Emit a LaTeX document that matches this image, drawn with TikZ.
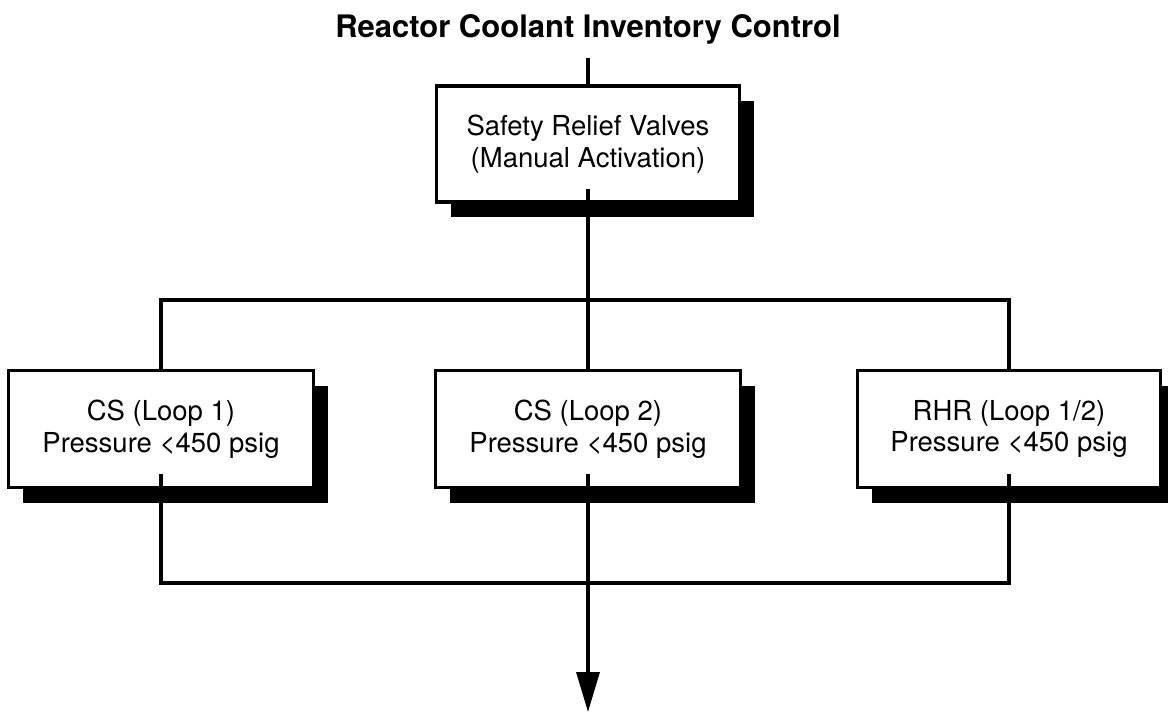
\documentclass[tikz,border=0pt]{standalone}
\usepackage{fontspec}
\setmainfont{TeX Gyre Heros}
\usetikzlibrary{shadows,arrows.meta}
\tikzset{
  blk/.style={draw=black, line width=3.5pt, fill=white,
    minimum width=303pt, minimum height=116pt, inner sep=0pt,
    align=center, font=\fontsize{27.5}{31.5}\selectfont,
    drop shadow={shadow xshift=14pt, shadow yshift=-15pt, opacity=1, fill=black}},
  wire/.style={line width=3.3pt, draw=black},
  ttl/.style={font=\fontsize{31}{36}\bfseries\selectfont}
}
\begin{document}
\begin{tikzpicture}[x=1pt,y=-1pt]
\useasboundingbox (0,0) rectangle (1168,713);
\fill[white] (0,0) rectangle (1168,713);
\node[ttl, anchor=base] (title) at (588,37) {Reactor Coolant Inventory Control};
\coordinate (t0) at (588,58);
\coordinate (bus1) at (588,300);
\coordinate (bus2) at (588,583);
\coordinate (end) at (588,712);
\node[blk] (top) at (588,144) {Safety Relief Valves\\(Manual Activation)};
\node[blk, minimum width=305pt, minimum height=117pt] (l) at (161,429) {CS (Loop 1)\\Pressure <450 psig};
\node[blk, minimum width=305pt, minimum height=117pt] (m) at (588,429) {CS (Loop 2)\\Pressure <450 psig};
\node[blk, minimum width=303pt, minimum height=117pt] (r) at (1009,429) {RHR (Loop 1/2)\\Pressure <450 psig};
\draw[wire] (t0) -- (top.north);
\draw[wire] ([yshift=15pt]top.south) -- (bus1);
\draw[wire] (l.north) |- (bus1) -| (r.north);
\draw[wire] (bus1) -- (m.north);
\draw[wire] ([yshift=15pt]l.south) |- (bus2) -| ([yshift=15pt]r.south);
\draw[wire] ([yshift=15pt]m.south) -- (bus2);
\draw[wire, -{Triangle[length=40pt,width=23pt]}] (bus2) -- (end);
\end{tikzpicture}
\end{document}
